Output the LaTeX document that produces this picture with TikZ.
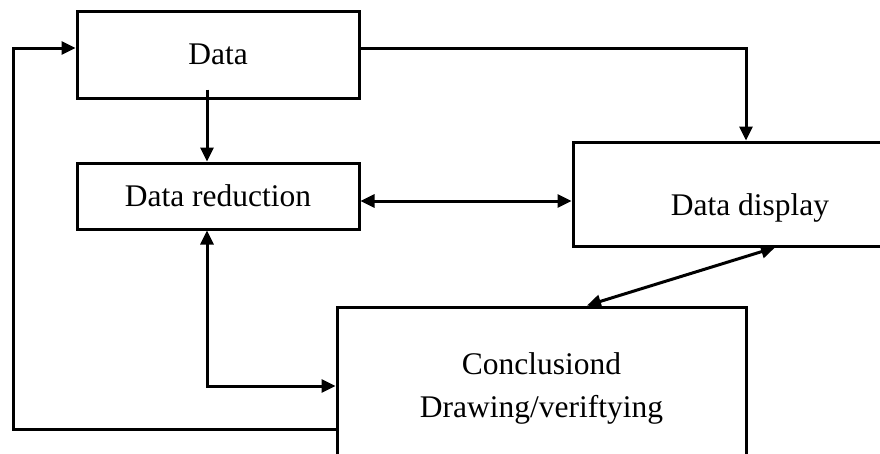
\documentclass[tikz,border=0pt]{standalone}
\usepackage{fontspec}
\setmainfont{Liberation Serif}
\usetikzlibrary{arrows.meta}

\begin{document}
\begin{tikzpicture}[x=1pt, y=-1pt]
	\tikzset{boite/.style={rectangle, draw=black, line width=3pt, inner sep=0pt, align=center, font=\fontsize{31.5}{43}\selectfont}, texte/.style={font=\fontsize{31.5}{43}\selectfont}, fleche/.style={line width=3pt, -{Triangle[length=14pt, width=13pt]}}, fleches/.style={fleche, {Triangle[length=14pt, width=13pt]}-{Triangle[length=14pt, width=13pt]}}};

	\path[use as bounding box] (0,0) rectangle (880,453);
	\clip (0,0) rectangle (880,453);

	\node[boite, minimum width=282, minimum height=87]  (data)  at (218,   54.5) {Data};
	\node[boite, minimum width=282, minimum height=66]  (red)   at (218,  196) {Data reduction};
	\node[boite, minimum width=354, minimum height=104] (disp)  at (750,  194) {};
	\node[texte] (disptxt) at ([yshift=-14pt]disp.center) {Data display};
	\node[boite, minimum width=409, minimum height=162] (concl) at (541.5, 388) {Conclusiond\\Drawing/veriftying};

	\coordinate (retour) at (13, 48);

	\draw[fleche] ([xshift=-11pt, yshift=10pt]data.south) -- ([xshift=-11pt]red.north);
	\draw[fleche] ([yshift=6.5pt]data.east) -| ([xshift=-4pt]disp.north);
	\draw[fleches] ([yshift=-5pt]red.east) -- ([yshift=-5pt]red.east -| disp.west);
	\draw[fleches] ([xshift=25pt]disp.south) -- ([xshift=45.5pt]concl.north);
	\draw[fleches] ([xshift=-11pt]red.south) |- ([yshift=2pt]concl.west);
	\draw[fleche] ([yshift=-41pt]concl.west) -| (retour) -- ([yshift=6.5pt]data.west);

\end{tikzpicture}
\end{document}
